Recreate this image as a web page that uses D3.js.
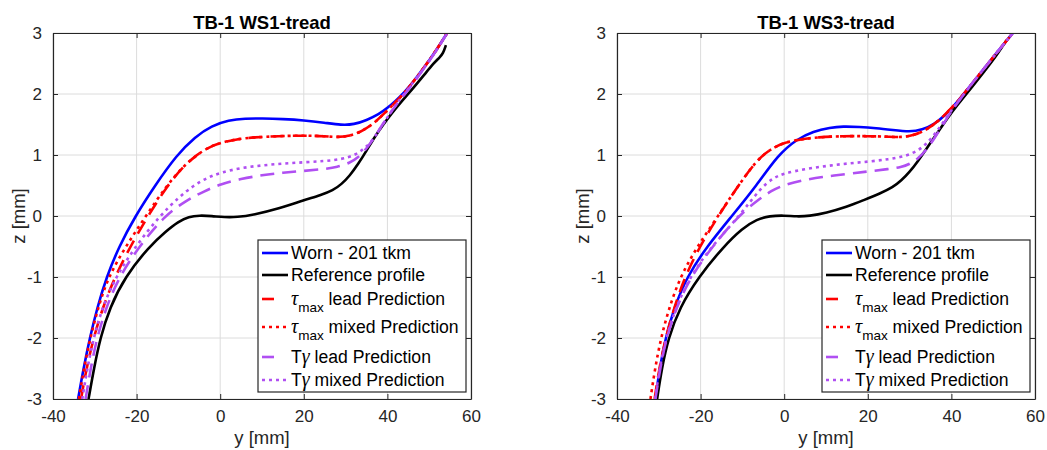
<!DOCTYPE html>
<html>
<head>
<meta charset="utf-8">
<script src="https://cdn.jsdelivr.net/npm/d3@7"></script>
<style>
  body { margin: 0; background: #fff; }
  svg { font-family: "Liberation Sans", Arial, sans-serif; }
</style>
</head>
<body>
<svg id="chart" width="1047" height="450"></svg>
<script>
// ---- data (y [mm], z [mm]) ----
const xTicks = [-40, -20, 0, 20, 40, 60]
const yTicks = [-3, -2, -1, 0, 1, 2, 3]
const panelTitles = ["TB-1 WS1-tread", "TB-1 WS3-tread"]

// WS1
const ws1Worn = [[-34,-3],[-32.7,-2.5],[-31.2,-2],[-29.4,-1.5],[-27.2,-1],[-24.2,-0.5],[-20.3,0],[-15.6,0.5],[-10.4,1.0],[-6,1.3],[-2,1.48],[2,1.57],[6,1.6],[10,1.6],[15,1.59],[20,1.57],[25,1.53],[29,1.49],[32,1.5],[35,1.57],[38,1.67],[40,1.77],[42,1.89],[44,2.02],[47,2.27],[50,2.55],[52,2.75],[54.3,3.0]]
const ws1Ref = [[-31.5,-3],[-30.2,-2.5],[-28.7,-2],[-26.4,-1.5],[-22.8,-1],[-17,-0.5],[-13,-0.25],[-10,-0.09],[-7.5,-0.01],[-5,0.01],[-2,0],[1,-0.02],[4,-0.02],[8,0.02],[14,0.12],[20,0.26],[24,0.34],[27,0.42],[29,0.52],[31,0.66],[33,0.85],[35,1.07],[37,1.3],[39,1.5],[41,1.68],[43,1.85],[46,2.08],[49,2.33],[51,2.5],[52.5,2.6],[53.3,2.66],[54,2.8]]
const ws1TauLead = [[-33.3,-3],[-32,-2.5],[-30.3,-2],[-28.1,-1.5],[-25.2,-1],[-21.5,-0.5],[-17.3,0],[-12.6,0.5],[-9,0.8],[-6,0.98],[-3,1.12],[0,1.2],[4,1.26],[8,1.29],[14,1.31],[20,1.32],[25,1.31],[28,1.29],[31,1.31],[34,1.39],[37,1.53],[40,1.73],[42,1.87],[44,2.01],[47,2.27],[50,2.55],[52,2.75],[54.3,3.0]]
const ws1TauMixed = [[-33.8,-3],[-32.6,-2.5],[-31.1,-2],[-29.2,-1.5],[-26.8,-1],[-22.6,-0.5],[-17.8,0],[-12.8,0.5],[-9,0.8],[-6,0.98],[-3,1.12],[0,1.2],[4,1.26],[8,1.29],[14,1.31],[20,1.32],[25,1.31],[28,1.29],[31,1.31],[34,1.39],[37,1.53],[40,1.73],[42,1.87],[44,2.01],[47,2.27],[50,2.55],[52,2.75],[54.3,3.0]]
const ws1GamLead = [[-32.2,-3],[-31,-2.5],[-29.5,-2],[-27.3,-1.5],[-24.2,-1],[-19.4,-0.5],[-13.4,0],[-8,0.26],[-4,0.4],[0,0.52],[5,0.61],[10,0.67],[15,0.71],[20,0.74],[25,0.77],[28,0.8],[31,0.87],[33,0.96],[35,1.1],[37,1.3],[39,1.52],[41,1.72],[43,1.9],[45,2.07],[47,2.25],[50,2.54],[52,2.74],[54.3,3.0]]
const ws1GamMixed = [[-33,-3],[-31.8,-2.5],[-30.3,-2],[-28.2,-1.5],[-25,-1],[-20.3,-0.5],[-14.5,0],[-10,0.3],[-6.4,0.5],[-3,0.63],[0,0.71],[5,0.79],[10,0.83],[15,0.86],[20,0.88],[25,0.9],[29,0.93],[32,0.99],[34,1.08],[36,1.2],[38,1.4],[40,1.62],[42,1.82],[44,2.0],[47,2.26],[50,2.54],[52,2.74],[54.3,3.0]]

// WS3
const ws3Worn = [[-30.8,-3],[-29.8,-2.5],[-28.4,-2],[-26.3,-1.5],[-23.3,-1],[-18.5,-0.5],[-12.5,0],[-6.6,0.5],[-1.5,1.0],[3,1.26],[7,1.39],[11,1.45],[14,1.47],[18,1.46],[22,1.44],[26,1.41],[30,1.38],[33,1.41],[36,1.51],[38.5,1.65],[40.5,1.8],[42.5,1.96],[45,2.18],[48,2.43],[51,2.69],[54.7,3.0]]
const ws3Ref = [[-30.4,-3],[-29.3,-2.5],[-27.7,-2],[-25,-1.5],[-20.5,-1],[-14.5,-0.5],[-10,-0.2],[-6.5,-0.05],[-3.5,0],[0,0.01],[3,-0.01],[6,0],[10,0.05],[15,0.15],[19,0.26],[23,0.37],[26,0.47],[28,0.58],[30,0.72],[32,0.9],[34,1.1],[36,1.3],[38,1.5],[40.4,1.73],[42.5,1.91],[45,2.12],[48,2.38],[51,2.65],[53.2,2.88]]
const ws3TauLead = [[-31,-3],[-29.9,-2.5],[-28.4,-2],[-26.3,-1.5],[-23.8,-1],[-20.2,-0.5],[-15.8,0],[-10.5,0.55],[-5.8,0.98],[-2,1.14],[0,1.2],[4,1.26],[8,1.29],[14,1.31],[20,1.31],[25,1.3],[28,1.29],[31,1.32],[34,1.41],[37,1.56],[40.5,1.8],[42.5,1.96],[45,2.18],[48,2.43],[51,2.69],[54.7,3.0]]
const ws3TauMixed = [[-32,-3],[-30.9,-2.5],[-29.5,-2],[-27.5,-1.5],[-24.9,-1],[-20.8,-0.5],[-15.8,0],[-10.5,0.55],[-5.8,0.98],[-2,1.14],[0,1.2],[4,1.26],[8,1.29],[14,1.31],[20,1.31],[25,1.3],[28,1.29],[31,1.32],[34,1.41],[37,1.56],[40.5,1.8],[42.5,1.96],[45,2.18],[48,2.43],[51,2.69],[54.7,3.0]]
const ws3GamLead = [[-30.8,-3],[-29.7,-2.5],[-28.2,-2],[-25.8,-1.5],[-22.4,-1],[-17.2,-0.5],[-11,0],[-6.5,0.25],[-3,0.42],[0,0.51],[4,0.58],[9,0.64],[15,0.69],[20,0.73],[25,0.77],[28,0.8],[30,0.85],[32,0.94],[34,1.08],[36,1.28],[38,1.5],[40.5,1.77],[42.5,1.95],[45,2.18],[48,2.43],[51,2.69],[54.7,3.0]]
const ws3GamMixed = [[-30.9,-3],[-29.8,-2.5],[-28.3,-2],[-25.9,-1.5],[-22.6,-1],[-17.4,-0.5],[-10.7,0],[-5.8,0.45],[-2.5,0.63],[0,0.7],[5,0.77],[10,0.82],[15,0.86],[20,0.89],[25,0.93],[29,0.98],[32,1.07],[34,1.18],[36,1.34],[38,1.53],[40.5,1.78],[42.5,1.95],[45,2.18],[48,2.43],[51,2.69],[54.7,3.0]]

const panelSeries = [
  [ws1Worn, ws1Ref, ws1TauLead, ws1TauMixed, ws1GamLead, ws1GamMixed],
  [ws3Worn, ws3Ref, ws3TauLead, ws3TauMixed, ws3GamLead, ws3GamMixed]
]

// series styles (same order as the legend)
const seriesColors = ["#0000ff", "#000000", "#ff0000", "#ff0000", "#b04ff2", "#b04ff2"]
const seriesDash = [null, null, "14,8", "3,4", "14,8", "3,4"]
const legendDash = [null, null, "12,30", "3,4", "12,30", "3,4"]

const svg = d3.select("#chart")

// plot areas
const panels = [
  {x0: 53, x1: 471, legendX: 258},
  {x0: 617, x1: 1035, legendX: 822}
]
const plotTop = 33, plotBottom = 399
const axisColor = "#262626"

panels.forEach((p, pi) => {
  const x = d3.scaleLinear().domain([-40, 60]).range([p.x0, p.x1])
  const y = d3.scaleLinear().domain([-3, 3]).range([plotBottom, plotTop])
  const g = svg.append("g")

  // grid
  g.append("g").selectAll("line").data(xTicks).join("line")
    .attr("x1", d => x(d)).attr("x2", d => x(d))
    .attr("y1", plotTop).attr("y2", plotBottom)
    .attr("stroke", "#dcdcdc").attr("stroke-width", 1)
  g.append("g").selectAll("line").data(yTicks).join("line")
    .attr("y1", d => y(d)).attr("y2", d => y(d))
    .attr("x1", p.x0).attr("x2", p.x1)
    .attr("stroke", "#dcdcdc").attr("stroke-width", 1)

  // clip
  const clipId = "clip" + pi
  svg.append("clipPath").attr("id", clipId)
    .append("rect").attr("x", p.x0).attr("y", plotTop)
    .attr("width", p.x1 - p.x0).attr("height", plotBottom - plotTop)

  const line = d3.line()
    .x(d => x(d[0])).y(d => y(d[1]))
    .curve(d3.curveBasis)

  g.append("g").attr("clip-path", `url(#${clipId})`)
    .selectAll("path").data(panelSeries[pi]).join("path")
      .attr("d", line)
      .attr("fill", "none")
      .attr("stroke", (d, i) => seriesColors[i])
      .attr("stroke-width", 2.6)
      .attr("stroke-dasharray", (d, i) => seriesDash[i])

  // axes (box with inward ticks on all sides), hyphen minus like the original
  const fmt = d => String(d)
  const xb = g.append("g").attr("transform", `translate(0,${plotBottom})`)
    .call(d3.axisBottom(x).tickValues(xTicks).tickFormat(fmt).tickSize(-5).tickPadding(11).tickSizeOuter(0))
  const xt = g.append("g").attr("transform", `translate(0,${plotTop})`)
    .call(d3.axisTop(x).tickValues(xTicks).tickSize(-5).tickFormat("").tickSizeOuter(0))
  const yl = g.append("g").attr("transform", `translate(${p.x0},0)`)
    .call(d3.axisLeft(y).tickValues(yTicks).tickFormat(fmt).tickSize(-5).tickPadding(11).tickSizeOuter(0))
  const yr = g.append("g").attr("transform", `translate(${p.x1},0)`)
    .call(d3.axisRight(y).tickValues(yTicks).tickSize(-5).tickFormat("").tickSizeOuter(0))
  ;[xb, xt, yl, yr].forEach(a => {
    a.selectAll(".domain").attr("stroke", axisColor).attr("stroke-width", 1.2)
    a.selectAll(".tick line").attr("stroke", axisColor)
    a.selectAll("text").attr("fill", axisColor)
      .style("font-size", "17px").style("font-family", "Liberation Sans, Arial, sans-serif")
  })

  // title and labels
  const cx = (p.x0 + p.x1) / 2
  g.append("text").attr("x", cx).attr("y", 29).attr("text-anchor", "middle")
    .attr("font-size", 18.5).attr("font-weight", "bold").attr("fill", "#000")
    .text(panelTitles[pi])
  g.append("text").attr("x", cx).attr("y", 444).attr("text-anchor", "middle")
    .attr("font-size", 18.5).attr("fill", axisColor).text("y [mm]")
  g.append("text")
    .attr("transform", `translate(${p.x0 - 28},${(plotTop + plotBottom) / 2}) rotate(-90)`)
    .attr("text-anchor", "middle").attr("font-size", 18.5).attr("fill", axisColor)
    .text("z [mm]")

  // legend
  const lg = g.append("g").attr("transform", `translate(${p.legendX},240)`)
  lg.append("rect").attr("width", 208).attr("height", 152)
    .attr("fill", "#fff").attr("stroke", axisColor).attr("stroke-width", 1.2)
  const rowY = [13, 35, 59, 87, 117, 140]
  const rows = lg.selectAll("g.row").data(d3.range(6)).join("g")
    .attr("class", "row")
    .attr("transform", i => `translate(0,${rowY[i]})`)
  rows.append("line")
    .attr("x1", 4).attr("x2", 30).attr("y1", 0).attr("y2", 0)
    .attr("stroke", i => seriesColors[i]).attr("stroke-width", 2.6)
    .attr("stroke-dasharray", i => legendDash[i])
  rows.each(function(i) {
    const t = d3.select(this).append("text").attr("x", 33).attr("y", 6)
      .attr("font-size", 17.6).attr("fill", "#000")
    if (i === 0) t.text("Worn - 201 tkm")
    else if (i === 1) t.text("Reference profile")
    else if (i === 2 || i === 3) {
      t.append("tspan").attr("font-family", "Liberation Serif, serif")
        .attr("font-style", "italic").attr("font-size", 20).text("\u03c4")
      t.append("tspan").attr("font-size", 13.5).attr("dy", 7).text("max")
      t.append("tspan").attr("dy", -7).text(i === 2 ? " lead Prediction" : " mixed Prediction")
    } else {
      t.append("tspan").text("T")
      t.append("tspan").attr("font-family", "Liberation Serif, serif")
        .attr("font-style", "italic").attr("font-size", 20).text("\u03b3")
      t.append("tspan").text(i === 4 ? " lead Prediction" : " mixed Prediction")
    }
  })
})
</script>
</body>
</html>
